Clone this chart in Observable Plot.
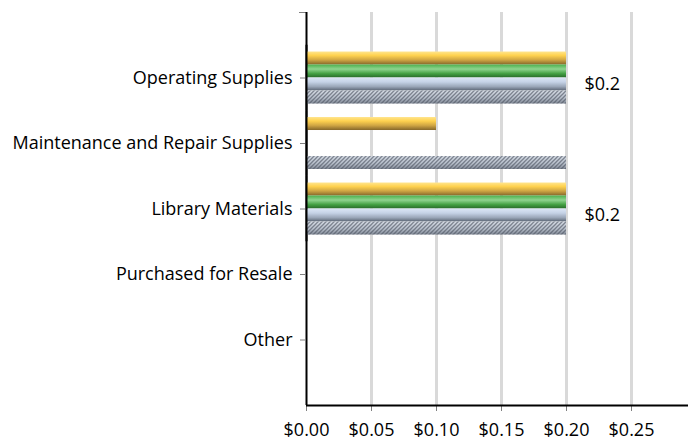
<!DOCTYPE html>
<html><head><meta charset="utf-8">
<script src="https://cdn.jsdelivr.net/npm/d3@7"></script>
<script src="https://cdn.jsdelivr.net/npm/@observablehq/plot@0.6"></script>
<style>
body{margin:0;background:#fff}
#chart{position:relative;width:688px;height:443px;overflow:hidden}
#chart svg{position:absolute;left:0;top:0}
</style>
</head><body>
<svg width="0" height="0" style="position:absolute">
  <defs>
    <linearGradient id="g-gold" x1="0" y1="0" x2="0" y2="1">
      <stop offset="0" stop-color="#ffe58f"/>
      <stop offset="0.3" stop-color="#ffd24f"/>
      <stop offset="0.65" stop-color="#cfa543"/>
      <stop offset="1" stop-color="#86672a"/>
    </linearGradient>
    <linearGradient id="g-green" x1="0" y1="0" x2="0" y2="1">
      <stop offset="0" stop-color="#4cb04c"/>
      <stop offset="0.35" stop-color="#8fd48f"/>
      <stop offset="0.7" stop-color="#43a043"/>
      <stop offset="1" stop-color="#286b2a"/>
    </linearGradient>
    <linearGradient id="g-silver" x1="0" y1="0" x2="0" y2="1">
      <stop offset="0" stop-color="#dce6f6"/>
      <stop offset="0.35" stop-color="#c5d2e6"/>
      <stop offset="0.7" stop-color="#9aa6b8"/>
      <stop offset="1" stop-color="#5c6675"/>
    </linearGradient>
    <linearGradient id="g-hatchbase" x1="0" y1="0" x2="0" y2="1">
      <stop offset="0" stop-color="#e2e8f1"/>
      <stop offset="0.6" stop-color="#bfc7d3"/>
      <stop offset="1" stop-color="#848c99"/>
    </linearGradient>
    <pattern id="p-hatch" patternUnits="userSpaceOnUse" width="4" height="4">
      <path d="M-1,1 l2,-2 M0,4 l4,-4 M3,5 l2,-2" stroke="#4e5562" stroke-width="1.3" opacity="0.75"/>
    </pattern>
  </defs>
</svg>
<div id="chart"></div>
<script>
const categories = ["Operating Supplies", "Maintenance and Repair Supplies", "Library Materials", "Purchased for Resale", "Other"];
const seriesNames = ["Series 4", "Series 3", "Series 2", "Series 1"]; // top to bottom within each group
const series4 = [0.2, 0.1, 0.2, 0, 0]; // gold
const series3 = [0.2, 0, 0.2, 0, 0];   // green
const series2 = [0.2, 0, 0.2, 0, 0];   // silver (labelled)
const series1 = [0.2, 0.2, 0.2, 0, 0]; // hatched
const xTicks = [0, 0.05, 0.10, 0.15, 0.20, 0.25];
const gridTicks = [0.05, 0.10, 0.15, 0.20, 0.25, 0.30];

const fills = {"Series 4": "url(#g-gold)", "Series 3": "url(#g-green)", "Series 2": "url(#g-silver)", "Series 1": "url(#g-hatchbase)"};
const rows = [];
[series4, series3, series2, series1].forEach((vals, i) =>
  vals.forEach((v, j) => rows.push({category: categories[j], series: seriesNames[i], value: v})));
const shown = rows.filter(d => d.value > 0);

const font = "'Open Sans', sans-serif";
const fs = 18;
const common = {
  width: 688,
  height: 443,
  marginLeft: 306,
  marginRight: -8,
  marginTop: 12,
  marginBottom: 38,
  x: {domain: [0, 0.3], axis: null}
};

// Background layer: gridlines, axis lines, x axis labels
const back = Plot.plot({
  ...common,
  style: {fontFamily: font, fontSize: fs + "px", background: "white", color: "black"},
  y: {domain: [0, 1], axis: null},
  marks: [
    Plot.ruleX(gridTicks, {stroke: "#d9d9d9", strokeWidth: 3}),
    Plot.axisX(xTicks, {anchor: "bottom", tickSize: 6, tickPadding: 12, stroke: "#808080",
      fontSize: fs, tickFormat: d => "$" + d.toFixed(2), label: null}),
    Plot.axisY([1], {anchor: "left", tickSize: 7, stroke: "#808080", tickFormat: () => "", label: null}),
    Plot.ruleX([0], {stroke: "black", strokeWidth: 2}),
    Plot.ruleY([0], {stroke: "black", strokeWidth: 2})
  ]
});

// Foreground layer: grouped bars faceted by category
const front = Plot.plot({
  ...common,
  style: {fontFamily: font, fontSize: fs + "px", background: "transparent", color: "black"},
  fy: {domain: categories, paddingInner: 0, paddingOuter: 0.5, round: false, axis: null, label: null},
  y: {domain: seriesNames, paddingInner: 0, paddingOuter: 0.52, round: false, axis: null},
  color: {type: "identity"},
  marks: [
    Plot.barX(shown, {fy: "category", y: "series", x: "value", fill: d => fills[d.series]}),
    Plot.barX(shown.filter(d => d.series === "Series 1"), {fy: "category", y: "series", x: "value", fill: "url(#p-hatch)"}),
    Plot.text(shown.filter(d => d.series === "Series 2"), {fy: "category", y: "series", x: "value",
      text: d => "$" + d.value, dx: 18, textAnchor: "start", fontSize: fs, fill: "black"}),
    Plot.axisFy({anchor: "left", tickSize: 6, tickPadding: 8, stroke: "#808080", fontSize: fs, label: null}),
    Plot.ruleX([0], {stroke: "black", strokeWidth: 2})
  ]
});
document.getElementById("chart").append(back, front);
</script>
</body></html>
